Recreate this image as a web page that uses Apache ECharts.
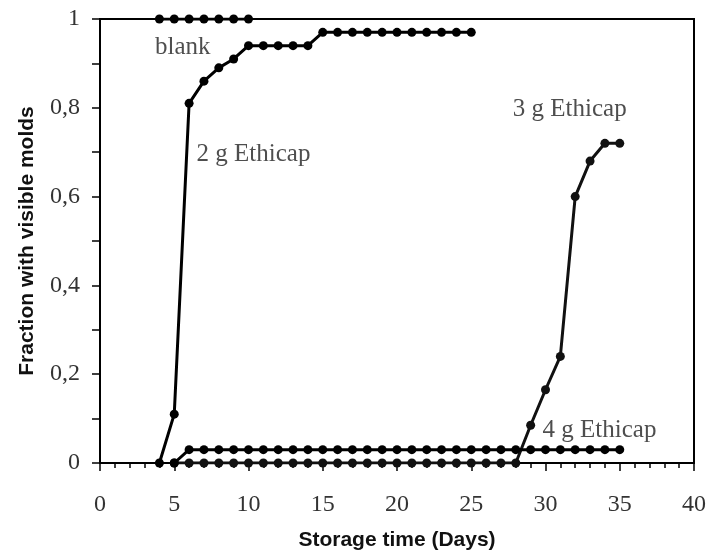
<!DOCTYPE html>
<html>
<head>
<meta charset="utf-8">
<script src="https://cdn.jsdelivr.net/npm/echarts@6/dist/echarts.min.js"></script>
<style>
  html, body { margin: 0; padding: 0; background: #fff; }
  #chart { width: 710px; height: 554px; }
</style>
</head>
<body>
<div id="chart"></div>
<script>
// values (days, fraction)
const blankDays = [4, 5, 6, 7, 8, 9, 10]
const blankVals = [1, 1, 1, 1, 1, 1, 1]

const g2Days = [4, 5, 6, 7, 8, 9, 10, 11, 12, 13, 14, 15, 16, 17, 18, 19, 20, 21, 22, 23, 24, 25]
const g2Vals = [0, 0.11, 0.81, 0.86, 0.89, 0.91, 0.94, 0.94, 0.94, 0.94, 0.94, 0.97, 0.97, 0.97, 0.97, 0.97, 0.97, 0.97, 0.97, 0.97, 0.97, 0.97]

const g3Days = [5, 6, 7, 8, 9, 10, 11, 12, 13, 14, 15, 16, 17, 18, 19, 20, 21, 22, 23, 24, 25, 26, 27, 28, 29, 30, 31, 32, 33, 34, 35]
const g3Vals = [0, 0, 0, 0, 0, 0, 0, 0, 0, 0, 0, 0, 0, 0, 0, 0, 0, 0, 0, 0, 0, 0, 0, 0, 0.085, 0.165, 0.24, 0.6, 0.68, 0.72, 0.72]

const g4Days = [5, 6, 7, 8, 9, 10, 11, 12, 13, 14, 15, 16, 17, 18, 19, 20, 21, 22, 23, 24, 25, 26, 27, 28, 29, 30, 31, 32, 33, 34, 35]
const g4Vals = [0, 0.03, 0.03, 0.03, 0.03, 0.03, 0.03, 0.03, 0.03, 0.03, 0.03, 0.03, 0.03, 0.03, 0.03, 0.03, 0.03, 0.03, 0.03, 0.03, 0.03, 0.03, 0.03, 0.03, 0.03, 0.03, 0.03, 0.03, 0.03, 0.03, 0.03]

// curve labels, anchored at their left edge in data space
const labelNames = ['blank', '2 g Ethicap', '3 g Ethicap', '4 g Ethicap']
const labelX = [3.7, 6.5, 27.8, 29.8]
const labelY = [0.937, 0.694, 0.797, 0.074]

const xTicks = { min: 0, max: 40, interval: 5 }
const yTicks = { min: 0, max: 1, interval: 0.2 }

const zip = (xs, ys) => xs.map((x, i) => [x, ys[i]])

const serif = '"Liberation Serif", "Times New Roman", serif'
const sans = '"Liberation Sans", Arial, sans-serif'

const lineSeries = (name, xs, ys, color) => ({
  name: name,
  type: 'line',
  data: zip(xs, ys),
  symbol: 'circle',
  symbolSize: 9,
  showAllSymbol: true,
  lineStyle: { color: color, width: 3 },
  itemStyle: { color: color },
  animation: false,
  z: 3
})

const chart = echarts.init(document.getElementById('chart'), null, { renderer: 'canvas' })

chart.setOption({
  animation: false,
  grid: {
    left: 100,
    right: 16,
    top: 19,
    bottom: 91,
    outerBoundsMode: 'none',
    containLabel: false,
    show: true,
    borderColor: '#000',
    borderWidth: 2
  },
  xAxis: {
    type: 'value',
    min: xTicks.min,
    max: xTicks.max,
    interval: xTicks.interval,
    name: 'Storage time (Days)',
    nameLocation: 'middle',
    nameGap: 67,
    nameTextStyle: { fontFamily: sans, fontWeight: 'bold', fontSize: 21, color: '#111' },
    axisLine: { show: true, onZero: false, lineStyle: { color: '#000', width: 2 } },
    axisTick: { show: true, inside: false, length: 8, lineStyle: { color: '#000', width: 1.5 } },
    minorTick: { show: true, splitNumber: 5, length: 5, lineStyle: { color: '#000', width: 1.5 } },
    splitLine: { show: false },
    axisLabel: { fontFamily: serif, fontSize: 24, color: '#333', margin: 30 }
  },
  yAxis: {
    type: 'value',
    min: yTicks.min,
    max: yTicks.max,
    interval: yTicks.interval,
    name: 'Fraction with visible molds',
    nameLocation: 'middle',
    nameGap: 62,
    nameTextStyle: { fontFamily: sans, fontWeight: 'bold', fontSize: 21, color: '#111' },
    axisLine: { show: true, onZero: false, lineStyle: { color: '#000', width: 2 } },
    axisTick: { show: true, inside: false, length: 8, lineStyle: { color: '#000', width: 1.5 } },
    minorTick: { show: true, splitNumber: 2, length: 8, lineStyle: { color: '#000', width: 1.5 } },
    splitLine: { show: false },
    axisLabel: {
      fontFamily: serif,
      fontSize: 24,
      color: '#333',
      margin: 20,
      formatter: (v) => String(+v.toFixed(1)).replace('.', ',')
    }
  },
  series: [
    lineSeries('3 g Ethicap', g3Days, g3Vals, '#111'),
    lineSeries('4 g Ethicap', g4Days, g4Vals, '#000'),
    lineSeries('2 g Ethicap', g2Days, g2Vals, '#000'),
    lineSeries('blank', blankDays, blankVals, '#000'),
    {
      name: 'labels',
      type: 'scatter',
      data: labelNames.map((n, i) => ({ name: n, value: [labelX[i], labelY[i]] })),
      symbolSize: 0,
      silent: true,
      label: {
        show: true,
        position: 'right',
        distance: 0,
        formatter: (p) => p.name,
        fontFamily: serif,
        fontSize: 25,
        color: '#222'
      },
      z: 5
    }
  ]
})
</script>
</body>
</html>
